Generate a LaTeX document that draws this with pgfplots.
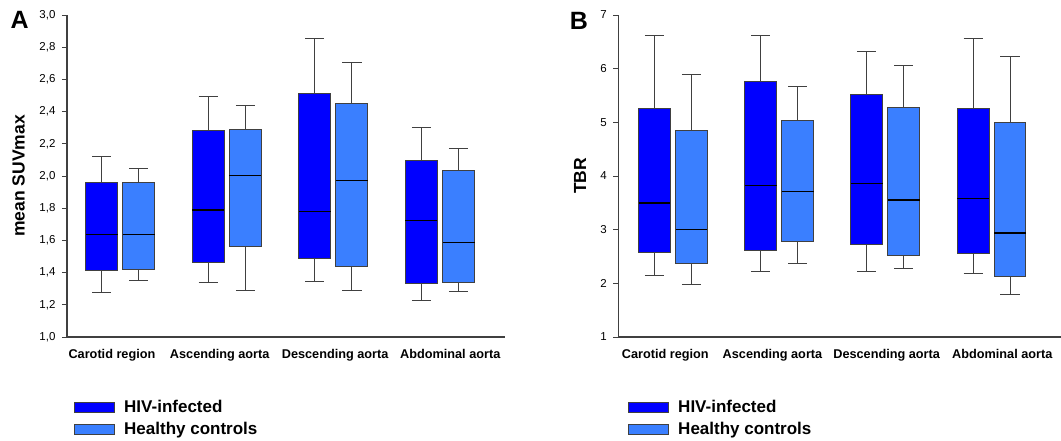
\documentclass[border=0pt]{standalone}
\usepackage{fontspec}
\setmainfont{Liberation Sans}
\usepackage{pgfplots}
\pgfplotsset{compat=1.18}
\usepgfplotslibrary{statistics}
\definecolor{hiv}{RGB}{0,0,255}
\definecolor{hc}{RGB}{58,127,255}
\definecolor{edge}{RGB}{64,64,64}
\pgfplotsset{
  mybox/.style={
    scale only axis, height=322pt, clip=false,
    axis lines*=left,
    axis line style={edge, line width=1.3pt},
    xticklabels={Carotid region, Ascending aorta, Descending aorta, Abdominal aorta},
    x tick label style={font=\fontsize{12.7}{15}\selectfont\bfseries, yshift=-4pt},
    x tick style={draw=none},
    y tick style={edge, line width=1pt},
    tick align=outside, major tick length=5pt,
    y tick label style={font=\fontsize{11.5}{13}\selectfont, xshift=-3pt},
    /pgf/number format/assume math mode=true,
    boxplot/draw direction=y,
    boxplot/box extend=0.30, boxplot/whisker extend=0.18,
    boxplot/every whisker/.style={draw=edge, line width=1pt},
    boxplot/every median/.style={draw=black, line width=1.3pt},
    every axis y label/.style={rotate=90, anchor=center, font=\fontsize{17.5}{20}\selectfont\bfseries},
    legend style={draw=none, fill=none, inner sep=0pt, anchor=north west,
      font=\fontsize{17}{20}\selectfont\bfseries, row sep=1pt,
      nodes={inner sep=2pt, text height=13pt, text depth=4pt}},
    legend cell align=left,
    legend image code/.code={\draw[##1] (0pt,-5pt) rectangle (40pt,5pt); \path (47pt,0pt);},
  },
  hivbox/.style={forget plot, draw=edge, line width=1pt, boxplot/every box/.style={fill=hiv, draw=edge, line width=1pt}},
  hcbox/.style={forget plot, draw=edge, line width=1pt, boxplot/every box/.style={fill=hc, draw=edge, line width=1pt}},
}
\begin{document}
\begin{tikzpicture}
\useasboundingbox (0,0) rectangle (1061pt,440pt);
% ---------- Panel A ----------
\begin{axis}[mybox, at={(67pt,103pt)}, anchor=south west,
  width=438pt, xmin=0.5, xmax=4.61, ymin=1, ymax=3,
  xtick={0.922,1.933,3.016,4.096},
  ytick={1,1.2,1.4,1.6,1.8,2.0,2.2,2.4,2.6,2.8,3.0},
  yticklabel style={/pgf/number format/.cd, fixed, fixed zerofill, precision=1, use comma},
  ylabel={mean SUVmax},
  ylabel style={at={(axis description cs:-0.1107,0.5)}},
  legend style={at={(axis description cs:0.016,-0.186)}}]
\addplot[hivbox, boxplot prepared={draw position=0.826, lower whisker=1.274, lower quartile=1.415, median=1.636, upper quartile=1.960, upper whisker=2.121}] coordinates {};
\addplot[hcbox, boxplot prepared={draw position=1.174, lower whisker=1.352, lower quartile=1.421, median=1.636, upper quartile=1.960, upper whisker=2.049}] coordinates {};
\addplot[hivbox, boxplot prepared={draw position=1.826, lower whisker=1.340, lower quartile=1.464, median=1.788, upper quartile=2.283, upper whisker=2.496}] coordinates {};
\addplot[hcbox, boxplot prepared={draw position=2.174, lower whisker=1.290, lower quartile=1.560, median=2.003, upper quartile=2.291, upper whisker=2.436}] coordinates {};
\addplot[hivbox, boxplot prepared={draw position=2.826, lower whisker=1.344, lower quartile=1.487, median=1.781, upper quartile=2.511, upper whisker=2.853}] coordinates {};
\addplot[hcbox, boxplot prepared={draw position=3.174, lower whisker=1.290, lower quartile=1.441, median=1.970, upper quartile=2.453, upper whisker=2.706}] coordinates {};
\addplot[hivbox, boxplot prepared={draw position=3.826, lower whisker=1.224, lower quartile=1.332, median=1.723, upper quartile=2.094, upper whisker=2.304}] coordinates {};
\addplot[hcbox, boxplot prepared={draw position=4.174, lower whisker=1.280, lower quartile=1.338, median=1.587, upper quartile=2.032, upper whisker=2.173}] coordinates {};
\addlegendimage{fill=hiv, draw=edge, line width=1pt}
\addlegendentry{HIV-infected}
\addlegendimage{fill=hc, draw=edge, line width=1pt}
\addlegendentry{Healthy controls}
\node[font=\fontsize{25}{28}\selectfont\bfseries] at (axis description cs:-0.108,0.984) {A};
\end{axis}
% ---------- Panel B ----------
\begin{axis}[mybox, at={(618.3pt,103pt)}, anchor=south west,
  width=442.7pt, xmin=0.485, xmax=4.654, ymin=1, ymax=7,
  xtick={0.928,1.937,3.012,4.101},
  ytick={1,2,3,4,5,6,7},
  ylabel={TBR},
  ylabel style={at={(axis description cs:-0.0865,0.5)}},
  legend style={at={(axis description cs:0.022,-0.186)}}]
\addplot[hivbox, boxplot prepared={draw position=0.826, lower whisker=2.138, lower quartile=2.579, median=3.499, upper quartile=5.265, upper whisker=6.621}] coordinates {};
\addplot[hcbox, boxplot prepared={draw position=1.174, lower whisker=1.976, lower quartile=2.368, median=3.002, upper quartile=4.855, upper whisker=5.893}] coordinates {};
\addplot[hivbox, boxplot prepared={draw position=1.826, lower whisker=2.225, lower quartile=2.610, median=3.823, upper quartile=5.756, upper whisker=6.614}] coordinates {};
\addplot[hcbox, boxplot prepared={draw position=2.174, lower whisker=2.374, lower quartile=2.778, median=3.717, upper quartile=5.035, upper whisker=5.663}] coordinates {};
\addplot[hivbox, boxplot prepared={draw position=2.826, lower whisker=2.225, lower quartile=2.728, median=3.854, upper quartile=5.514, upper whisker=6.328}] coordinates {};
\addplot[hcbox, boxplot prepared={draw position=3.174, lower whisker=2.275, lower quartile=2.517, median=3.555, upper quartile=5.284, upper whisker=6.061}] coordinates {};
\addplot[hivbox, boxplot prepared={draw position=3.826, lower whisker=2.175, lower quartile=2.548, median=3.580, upper quartile=5.253, upper whisker=6.565}] coordinates {};
\addplot[hcbox, boxplot prepared={draw position=4.174, lower whisker=1.790, lower quartile=2.119, median=2.940, upper quartile=4.998, upper whisker=6.235}] coordinates {};
\addlegendimage{fill=hiv, draw=edge, line width=1pt}
\addlegendentry{HIV-infected}
\addlegendimage{fill=hc, draw=edge, line width=1pt}
\addlegendentry{Healthy controls}
\node[font=\fontsize{25}{28}\selectfont\bfseries] at (axis description cs:-0.0888,0.981) {B};
\end{axis}
\end{tikzpicture}
\end{document}
